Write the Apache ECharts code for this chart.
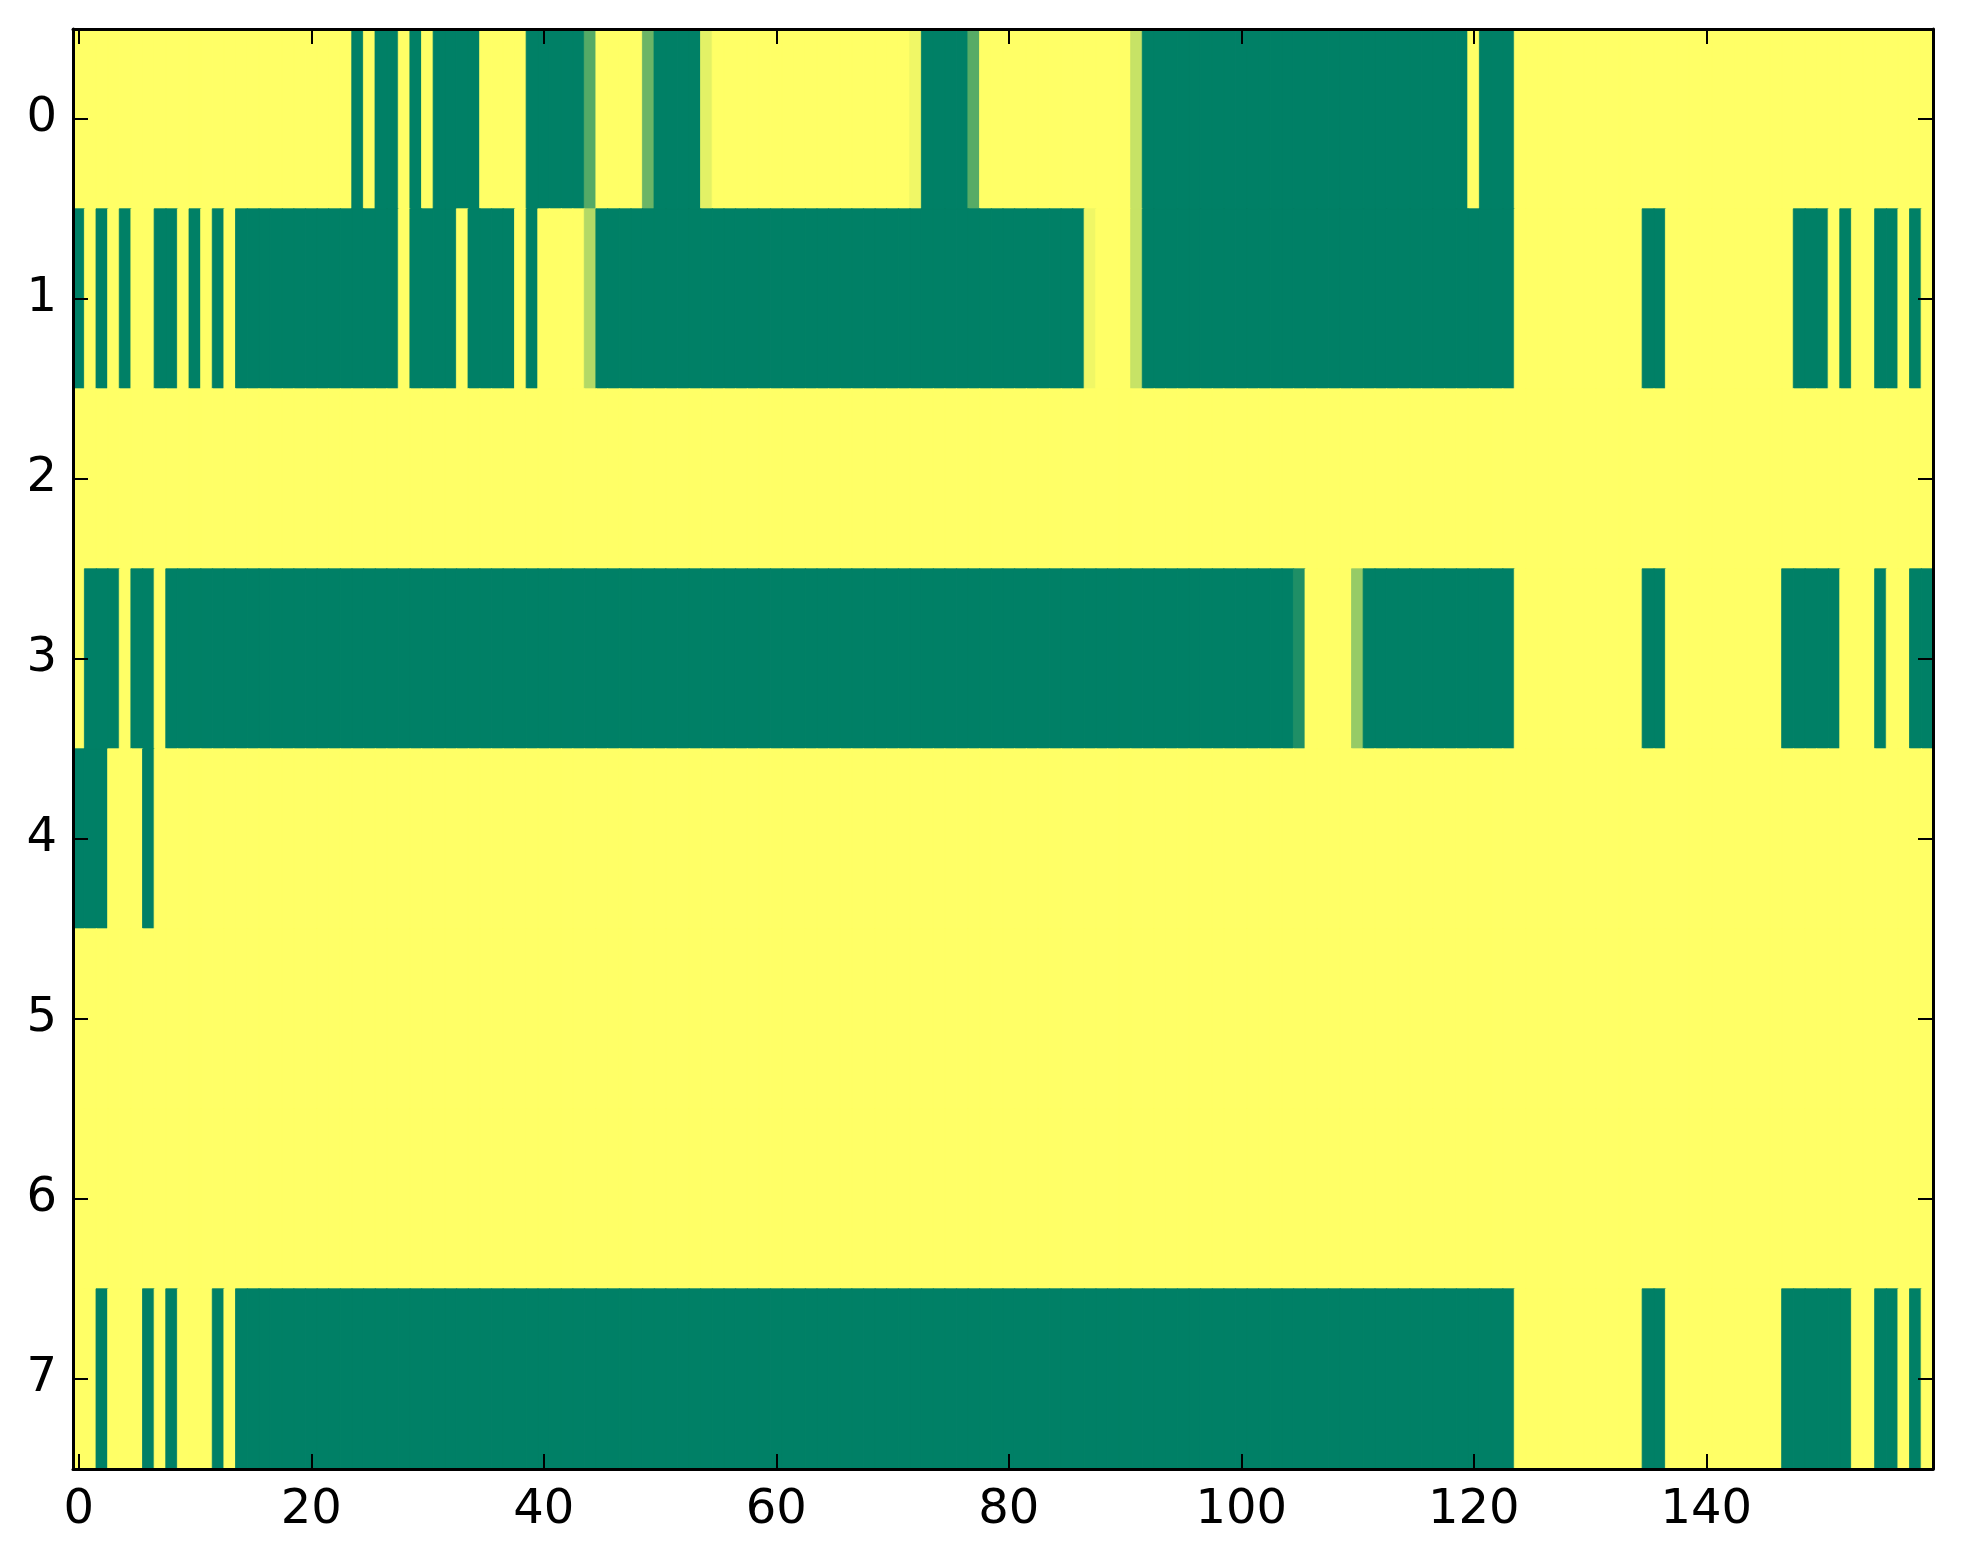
<!DOCTYPE html>
<html>
<head>
<meta charset="utf-8">
<script src="https://cdn.jsdelivr.net/npm/echarts@6/dist/echarts.min.js"></script>
<style>
html,body{margin:0;padding:0;background:#fff;}
#chart{width:1963px;height:1564px;}
</style>
</head>
<body>
<div id="chart"></div>
<script>
// Row labels (y axis) and column count (x axis)
const rowLabels = ['0','1','2','3','4','5','6','7'];
const colLabels = [];
for (let i = 0; i < 160; i++) colLabels.push(String(i));

// Cell values per row (0 = green, 1 = yellow, summer colormap)
const row0 = [
 1,1,1,1,1,1,1,1,1,1,
 1,1,1,1,1,1,1,1,1,1,
 1,1,1,1,0,1,0,0,1,0,
 1,0,0,0,0,1,1,1,1,0,
 0,0,0,0,0.33,1,1,1,1,0.42,
 0,0,0,0,0.89,1,1,1,1,1,
 1,1,1,1,1,1,1,1,1,1,
 1,1,0.94,0,0,0,0,0.34,1,1,
 1,1,1,1,1,1,1,1,1,1,
 1,0.78,0,0,0,0,0,0,0,0,
 0,0,0,0,0,0,0,0,0,0,
 0,0,0,0,0,0,0,0,0,0,
 1,0,0,0,1,1,1,1,1,1,
 1,1,1,1,1,1,1,1,1,1,
 1,1,1,1,1,1,1,1,1,1,
 1,1,1,1,1,1,1,1,1,1
];
const row1 = [
 0,1,0,1,0,1,1,0,0,1,
 0,1,0,1,0,0,0,0,0,0,
 0,0,0,0,0,0,0,0,1,0,
 0,0,0,1,0,0,0,0,1,0,
 1,1,1,1,0.70,0,0,0,0,0,
 0,0,0,0,0,0,0,0,0,0,
 0,0,0,0,0,0,0,0,0,0,
 0,0,0,0,0,0,0,0,0,0,
 0,0,0,0,0,0,0,0.94,1,1,
 1,0.78,0,0,0,0,0,0,0,0,
 0,0,0,0,0,0,0,0,0,0,
 0,0,0,0,0,0,0,0,0,0,
 0,0,0,0,1,1,1,1,1,1,
 1,1,1,1,1,0,0,1,1,1,
 1,1,1,1,1,1,1,1,0,0,
 0,1,0,1,1,0,0,1,0,1
];
const row2 = [
 1,1,1,1,1,1,1,1,1,1, 1,1,1,1,1,1,1,1,1,1,
 1,1,1,1,1,1,1,1,1,1, 1,1,1,1,1,1,1,1,1,1,
 1,1,1,1,1,1,1,1,1,1, 1,1,1,1,1,1,1,1,1,1,
 1,1,1,1,1,1,1,1,1,1, 1,1,1,1,1,1,1,1,1,1,
 1,1,1,1,1,1,1,1,1,1, 1,1,1,1,1,1,1,1,1,1,
 1,1,1,1,1,1,1,1,1,1, 1,1,1,1,1,1,1,1,1,1,
 1,1,1,1,1,1,1,1,1,1, 1,1,1,1,1,1,1,1,1,1,
 1,1,1,1,1,1,1,1,1,1, 1,1,1,1,1,1,1,1,1,1
];
const row3 = [
 1,0,0,0,1,0,0,1,0,0,
 0,0,0,0,0,0,0,0,0,0,
 0,0,0,0,0,0,0,0,0,0,
 0,0,0,0,0,0,0,0,0,0,
 0,0,0,0,0,0,0,0,0,0,
 0,0,0,0,0,0,0,0,0,0,
 0,0,0,0,0,0,0,0,0,0,
 0,0,0,0,0,0,0,0,0,0,
 0,0,0,0,0,0,0,0,0,0,
 0,0,0,0,0,0,0,0,0,0,
 0,0,0,0,0,0.12,1,1,1,1,
 0.59,0,0,0,0,0,0,0,0,0,
 0,0,0,0,1,1,1,1,1,1,
 1,1,1,1,1,0,0,1,1,1,
 1,1,1,1,1,1,1,0,0,0,
 0,0,1,1,1,0,1,1,0,0
];
const row4 = [
 0,0,0,1,1,1,0,1,1,1, 1,1,1,1,1,1,1,1,1,1,
 1,1,1,1,1,1,1,1,1,1, 1,1,1,1,1,1,1,1,1,1,
 1,1,1,1,1,1,1,1,1,1, 1,1,1,1,1,1,1,1,1,1,
 1,1,1,1,1,1,1,1,1,1, 1,1,1,1,1,1,1,1,1,1,
 1,1,1,1,1,1,1,1,1,1, 1,1,1,1,1,1,1,1,1,1,
 1,1,1,1,1,1,1,1,1,1, 1,1,1,1,1,1,1,1,1,1,
 1,1,1,1,1,1,1,1,1,1, 1,1,1,1,1,1,1,1,1,1,
 1,1,1,1,1,1,1,1,1,1, 1,1,1,1,1,1,1,1,1,1
];
const row5 = [
 1,1,1,1,1,1,1,1,1,1, 1,1,1,1,1,1,1,1,1,1,
 1,1,1,1,1,1,1,1,1,1, 1,1,1,1,1,1,1,1,1,1,
 1,1,1,1,1,1,1,1,1,1, 1,1,1,1,1,1,1,1,1,1,
 1,1,1,1,1,1,1,1,1,1, 1,1,1,1,1,1,1,1,1,1,
 1,1,1,1,1,1,1,1,1,1, 1,1,1,1,1,1,1,1,1,1,
 1,1,1,1,1,1,1,1,1,1, 1,1,1,1,1,1,1,1,1,1,
 1,1,1,1,1,1,1,1,1,1, 1,1,1,1,1,1,1,1,1,1,
 1,1,1,1,1,1,1,1,1,1, 1,1,1,1,1,1,1,1,1,1
];
const row6 = [
 1,1,1,1,1,1,1,1,1,1, 1,1,1,1,1,1,1,1,1,1,
 1,1,1,1,1,1,1,1,1,1, 1,1,1,1,1,1,1,1,1,1,
 1,1,1,1,1,1,1,1,1,1, 1,1,1,1,1,1,1,1,1,1,
 1,1,1,1,1,1,1,1,1,1, 1,1,1,1,1,1,1,1,1,1,
 1,1,1,1,1,1,1,1,1,1, 1,1,1,1,1,1,1,1,1,1,
 1,1,1,1,1,1,1,1,1,1, 1,1,1,1,1,1,1,1,1,1,
 1,1,1,1,1,1,1,1,1,1, 1,1,1,1,1,1,1,1,1,1,
 1,1,1,1,1,1,1,1,1,1, 1,1,1,1,1,1,1,1,1,1
];
const row7 = [
 1,1,0,1,1,1,0,1,0,1,
 1,1,0,1,0,0,0,0,0,0,
 0,0,0,0,0,0,0,0,0,0,
 0,0,0,0,0,0,0,0,0,0,
 0,0,0,0,0,0,0,0,0,0,
 0,0,0,0,0,0,0,0,0,0,
 0,0,0,0,0,0,0,0,0,0,
 0,0,0,0,0,0,0,0,0,0,
 0,0,0,0,0,0,0,0,0,0,
 0,0,0,0,0,0,0,0,0,0,
 0,0,0,0,0,0,0,0,0,0,
 0,0,0,0,0,0,0,0,0,0,
 0,0,0,0,1,1,1,1,1,1,
 1,1,1,1,1,0,0,1,1,1,
 1,1,1,1,1,1,1,0,0,0,
 0,0,0,1,1,0,0,1,0,1
];

const rows = [row0,row1,row2,row3,row4,row5,row6,row7];

// summer colormap ends (matplotlib): 0 -> (0,0.5,0.4), 1 -> (1,1,0.4)
const lowColor = [0, 128, 102];
const highColor = [255, 255, 102];
function summer(v) {
  const c = lowColor.map((a, i) => Math.round(a + (highColor[i] - a) * v));
  return 'rgb(' + c.join(',') + ')';
}

const cells = [];
rows.forEach((r, y) => r.forEach((v, x) => cells.push({
  value: [x, y, v],
  itemStyle: {borderColor: summer(v), borderWidth: 0.8}
})));

const chart = echarts.init(document.getElementById('chart'), null, {renderer: 'canvas'});
const tickEvery20 = (i) => i % 20 === 0;
const fontFamily = 'DejaVu Sans';
const labelStyle = {color: '#000', fontFamily: fontFamily, fontSize: 48};
const axisLineStyle = {show: true, onZero: false, lineStyle: {color: '#000', width: 3}};

chart.setOption({
  animation: false,
  backgroundColor: '#fff',
  grid: {left: 73, top: 29, width: 1860, height: 1440, containLabel: false},
  visualMap: {
    show: false, min: 0, max: 1, calculable: false,
    inRange: {color: ['rgb(0,128,102)', 'rgb(255,255,102)']}
  },
  xAxis: [
    {
      type: 'category', data: colLabels, position: 'bottom', z: 10,
      axisLine: axisLineStyle,
      axisTick: {show: true, inside: true, length: 15, alignWithLabel: true, interval: tickEvery20, lineStyle: {color: '#000', width: 2}},
      axisLabel: Object.assign({interval: tickEvery20, margin: 18}, labelStyle),
      splitLine: {show: false}
    },
    {
      type: 'category', data: colLabels, position: 'top', z: 10,
      axisLine: axisLineStyle,
      axisTick: {show: true, inside: true, length: 15, alignWithLabel: true, interval: tickEvery20, lineStyle: {color: '#000', width: 2}},
      axisLabel: {show: false},
      splitLine: {show: false}
    }
  ],
  yAxis: [
    {
      type: 'category', data: rowLabels, inverse: true, position: 'left', z: 10,
      axisLine: axisLineStyle,
      axisTick: {show: true, inside: true, length: 15, alignWithLabel: true, lineStyle: {color: '#000', width: 2}},
      axisLabel: Object.assign({margin: 16}, labelStyle),
      splitLine: {show: false}
    },
    {
      type: 'category', data: rowLabels, inverse: true, position: 'right', z: 10,
      axisLine: axisLineStyle,
      axisTick: {show: true, inside: true, length: 15, alignWithLabel: true, lineStyle: {color: '#000', width: 2}},
      axisLabel: {show: false},
      splitLine: {show: false}
    }
  ],
  series: [{
    type: 'heatmap',
    xAxisIndex: 0, yAxisIndex: 0,
    data: cells,
    progressive: 0,
    emphasis: {disabled: true}
  }]
});
</script>
</body>
</html>
